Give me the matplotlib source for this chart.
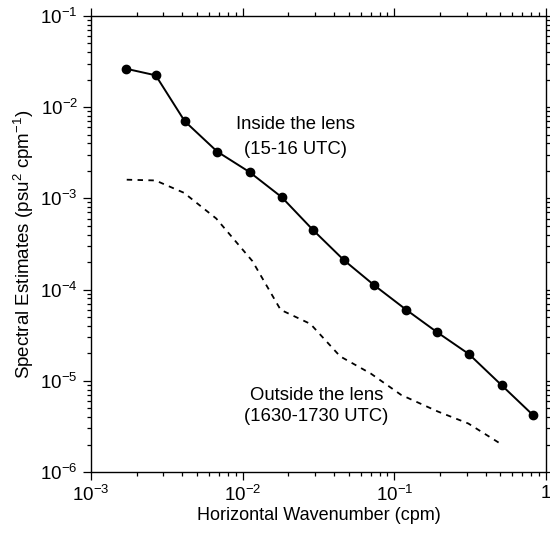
import matplotlib
matplotlib.use("Agg")
import matplotlib.pyplot as plt
from matplotlib.ticker import LogLocator, NullFormatter, FuncFormatter
import numpy as np

plt.rcParams["font.family"] = ["Liberation Sans", "DejaVu Sans"]
plt.rcParams["mathtext.fontset"] = "custom"
plt.rcParams["mathtext.rm"] = "Liberation Sans"
plt.rcParams["mathtext.it"] = "Liberation Sans:italic"
plt.rcParams["mathtext.default"] = "regular"

# === DATA ===
inside_k = [1.69e-3, 2.67e-3, 4.15e-3, 6.8e-3, 1.11e-2, 1.81e-2, 2.91e-2,
            4.67e-2, 7.4e-2, 0.120, 0.192, 0.311, 0.512, 0.823]
inside_s = [2.64e-2, 2.23e-2, 7.0e-3, 3.25e-3, 1.94e-3, 1.03e-3, 4.5e-4,
            2.09e-4, 1.11e-4, 6.0e-5, 3.4e-5, 1.96e-5, 8.9e-6, 4.2e-6]

outside_k = [1.72e-3, 2.66e-3, 4.1e-3, 6.7e-3, 1.16e-2, 1.78e-2, 2.8e-2,
             4.4e-2, 7.0e-2, 0.111, 0.194, 0.308, 0.512]
outside_s = [1.6e-3, 1.57e-3, 1.15e-3, 6.0e-4, 2.05e-4, 6.0e-5, 4.2e-5,
             1.85e-5, 1.2e-5, 7.0e-6, 4.6e-6, 3.4e-6, 2.0e-6]


def pow10_label(v, pos):
    e = int(round(np.log10(v)))
    if e == 0:
        return "1"
    return r"$10^{%d}$" % e


# === PLOT ===
fig = plt.figure(figsize=(5.5, 5.36), dpi=100)
ax = fig.add_axes([0.1655, 0.1194, 0.827, 0.851])

ax.plot(inside_k, inside_s, color="black", lw=1.4, marker="o", markersize=6)
ax.plot(outside_k, outside_s, color="black", lw=1.3, linestyle=(0, (3, 3)))

ax.set_xscale("log")
ax.set_yscale("log")
ax.set_xlim(1e-3, 1)
ax.set_ylim(1e-6, 1e-1)

ax.xaxis.set_major_locator(LogLocator(base=10, numticks=10))
ax.yaxis.set_major_locator(LogLocator(base=10, numticks=10))
ax.xaxis.set_minor_locator(LogLocator(base=10, subs=range(2, 10), numticks=20))
ax.yaxis.set_minor_locator(LogLocator(base=10, subs=range(2, 10), numticks=20))
ax.xaxis.set_major_formatter(FuncFormatter(pow10_label))
ax.yaxis.set_major_formatter(FuncFormatter(pow10_label))
ax.xaxis.set_minor_formatter(NullFormatter())
ax.yaxis.set_minor_formatter(NullFormatter())

ax.tick_params(which="both", direction="out", top=True, right=True,
               labelsize=13.5, width=0.9)
ax.tick_params(which="major", length=6)
ax.tick_params(which="minor", length=3)
for s in ax.spines.values():
    s.set_linewidth(1.0)

ax.set_xlabel("Horizontal Wavenumber (cpm)", fontsize=13, labelpad=1)
ax.set_ylabel("Spectral Estimates (psu$^2$ cpm$^{-1}$)", fontsize=13.5, labelpad=3)

ax.text(0.449, 0.762, "Inside the lens", transform=ax.transAxes,
        ha="center", va="center", fontsize=13.3)
ax.text(0.449, 0.706, "(15-16 UTC)", transform=ax.transAxes,
        ha="center", va="center", fontsize=13.3)
ax.text(0.496, 0.167, "Outside the lens", transform=ax.transAxes,
        ha="center", va="center", fontsize=13.3)
ax.text(0.496, 0.121, "(1630-1730 UTC)", transform=ax.transAxes,
        ha="center", va="center", fontsize=13.3)

plt.savefig("out.png", dpi=100)
